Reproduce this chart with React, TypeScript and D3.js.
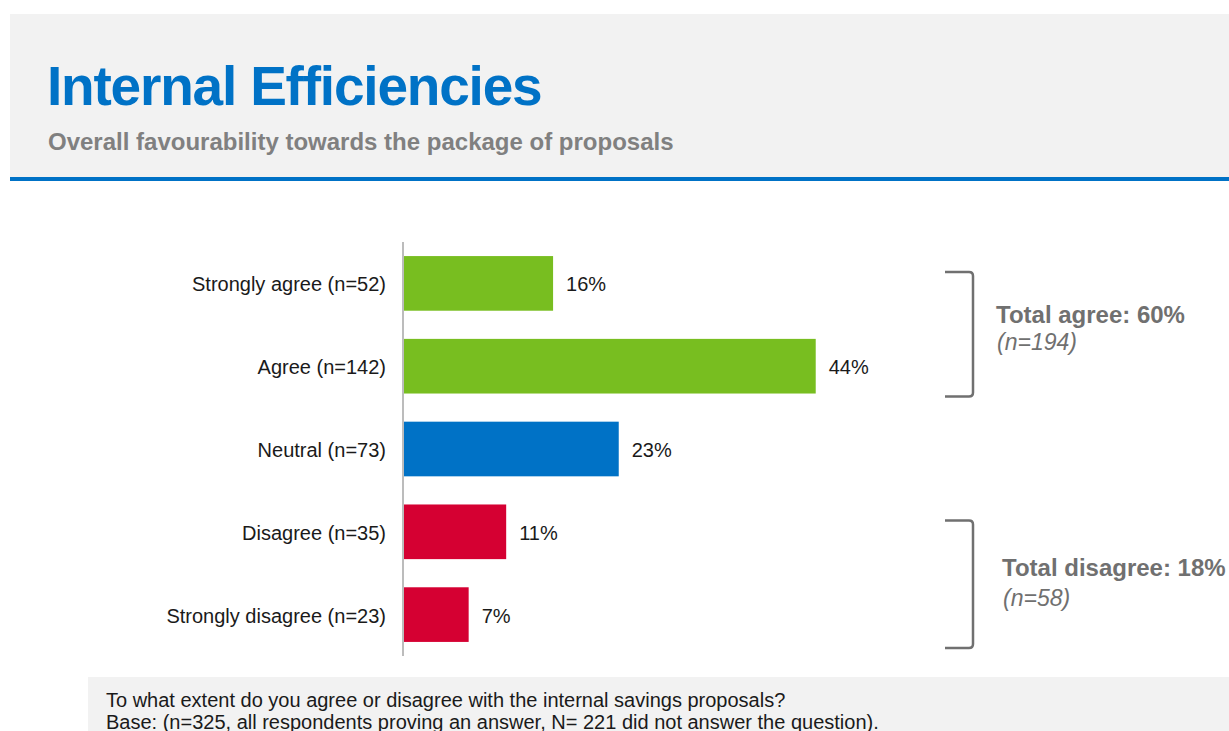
import { useEffect, useRef } from "react";
import * as d3 from "d3";

const categories = [
  "Strongly agree (n=52)",
  "Agree (n=142)",
  "Neutral (n=73)",
  "Disagree (n=35)",
  "Strongly disagree (n=23)",
];
const values = [16, 44, 23, 11, 7];
const barColors = ["#78BE20", "#78BE20", "#0072C6", "#D50032", "#D50032"];

const groups = [
  { from: 0, to: 1, label: "Total agree: 60%", n: "(n=194)" },
  { from: 3, to: 4, label: "Total disagree: 18%", n: "(n=58)" },
];

const FONT = "'Liberation Sans', Arial, sans-serif";

export default function App() {
  const svgRef = useRef<SVGSVGElement | null>(null);

  useEffect(() => {
    const W = 1229;
    const H = 731;
    const svg = d3.select(svgRef.current).attr("width", W).attr("height", H);
    svg.selectAll("*").remove();

    // header
    svg.append("rect").attr("x", 10).attr("y", 14).attr("width", W - 10).attr("height", 164).attr("fill", "#F2F2F2");
    svg.append("rect").attr("x", 10).attr("y", 177).attr("width", W - 10).attr("height", 4).attr("fill", "#0072C6");
    svg.append("text")
      .attr("x", 47).attr("y", 105)
      .style("font-family", FONT).style("font-weight", "bold").style("font-size", "55px")
      .style("letter-spacing", "-1.2px")
      .attr("fill", "#0072C6")
      .text("Internal Efficiencies");
    svg.append("text")
      .attr("x", 48).attr("y", 150)
      .style("font-family", FONT).style("font-weight", "bold").style("font-size", "24px")
      .attr("fill", "#808080")
      .text("Overall favourability towards the package of proposals");

    // chart
    const x = d3.scaleLinear().domain([0, 100]).range([403, 403 + 938]);
    const y = d3.scaleBand<string>().domain(categories).range([242, 656]).paddingInner(0.34).paddingOuter(0.17);

    svg.append("line")
      .attr("x1", x(0)).attr("x2", x(0)).attr("y1", 242).attr("y2", 656)
      .attr("stroke", "#A6A6A6").attr("stroke-width", 1.5);

    svg.selectAll(".bar").data(values).join("rect")
      .attr("class", "bar")
      .attr("x", x(0) + 1)
      .attr("y", (_, i) => y(categories[i])!)
      .attr("width", d => x(d) - x(0) - 1)
      .attr("height", y.bandwidth())
      .attr("fill", (_, i) => barColors[i]);

    svg.selectAll(".val").data(values).join("text")
      .attr("class", "val")
      .attr("x", d => x(d) + 13)
      .attr("y", (_, i) => y(categories[i])! + y.bandwidth() / 2 + 8)
      .style("font-family", FONT).style("font-size", "20px")
      .attr("fill", "#1a1a1a")
      .text(d => `${d}%`);

    svg.selectAll(".cat").data(categories).join("text")
      .attr("class", "cat")
      .attr("x", 386)
      .attr("y", d => y(d)! + y.bandwidth() / 2 + 8)
      .attr("text-anchor", "end")
      .style("font-family", FONT).style("font-size", "20px")
      .attr("fill", "#1a1a1a")
      .text(d => d);

    // brackets
    const bx0 = 945;
    const bx1 = 973;
    const labelOffsets = [
      { x: 996, label: 51, n: 78, bottom: 3 },
      { x: 1002, label: 56, n: 86, bottom: 6 },
    ];
    groups.forEach((g, gi) => {
      const o = labelOffsets[gi];
      const top = y(categories[g.from])! + 16;
      const bottom = y(categories[g.to])! + y.bandwidth() + o.bottom;
      const r = 4;
      svg.append("path")
        .attr("d", `M${bx0},${top} L${bx1 - r},${top} Q${bx1},${top} ${bx1},${top + r} L${bx1},${bottom - r} Q${bx1},${bottom} ${bx1 - r},${bottom} L${bx0},${bottom}`)
        .attr("fill", "none").attr("stroke", "#707070").attr("stroke-width", 2.5);
      svg.append("text")
        .attr("x", o.x).attr("y", top + o.label)
        .style("font-family", FONT).style("font-weight", "bold").style("font-size", "24px")
        .attr("fill", "#707070")
        .text(g.label);
      svg.append("text")
        .attr("x", o.x + 1).attr("y", top + o.n)
        .style("font-family", FONT).style("font-style", "italic").style("font-size", "23px")
        .attr("fill", "#707070")
        .text(g.n);
    });

    // footer
    svg.append("rect").attr("x", 88).attr("y", 677).attr("width", W - 88).attr("height", H - 677).attr("fill", "#F2F2F2");
    svg.append("text")
      .attr("x", 106).attr("y", 707)
      .style("font-family", FONT).style("font-size", "20px")
      .attr("fill", "#1a1a1a")
      .text("To what extent do you agree or disagree with the internal savings proposals?");
    svg.append("text")
      .attr("x", 106).attr("y", 729)
      .style("font-family", FONT).style("font-size", "20px")
      .attr("fill", "#1a1a1a")
      .text("Base: (n=325, all respondents proving an answer, N= 221 did not answer the question).");
  }, []);

  return (
    <div style={{ position: "absolute", left: 0, top: 0, width: 1229, height: 731, overflow: "hidden", background: "#fff" }}>
      <svg ref={svgRef}></svg>
    </div>
  );
}
